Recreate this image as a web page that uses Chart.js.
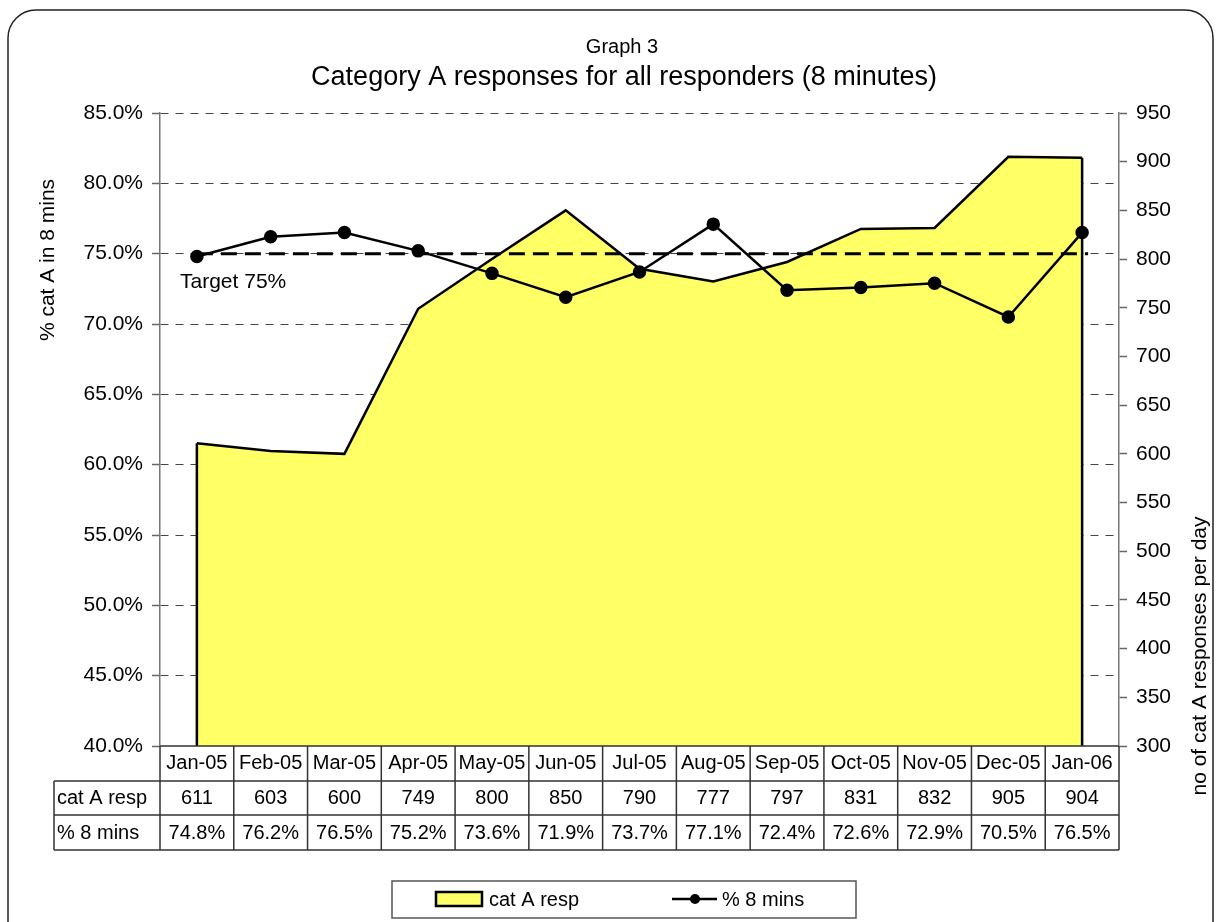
<!DOCTYPE html>
<html>
<head>
<meta charset="utf-8">
<script src="https://cdn.jsdelivr.net/npm/chart.js@4/dist/chart.umd.min.js"></script>
<style>
  html, body { margin: 0; padding: 0; background: #fff; }
  #wrap { width: 1220px; height: 922px; }
</style>
</head>
<body>
<div id="wrap"><canvas id="chart" width="1220" height="922"></canvas></div>
<script>
// ---- data ----
const months = ["Jan-05", "Feb-05", "Mar-05", "Apr-05", "May-05", "Jun-05", "Jul-05",
                "Aug-05", "Sep-05", "Oct-05", "Nov-05", "Dec-05", "Jan-06"];
const catAResp = [611, 603, 600, 749, 800, 850, 790, 777, 797, 831, 832, 905, 904];
const pct8Mins = [74.8, 76.2, 76.5, 75.2, 73.6, 71.9, 73.7, 77.1, 72.4, 72.6, 72.9, 70.5, 76.5];
const targetPct = 75;
const pctTicks = [40, 45, 50, 55, 60, 65, 70, 75, 80, 85];
const respTicks = [300, 350, 400, 450, 500, 550, 600, 650, 700, 750, 800, 850, 900, 950];

const FONT = "'Liberation Sans', Arial, sans-serif";
const YELLOW = "#ffff66";

/* frame, titles, axis titles */
const framePlugin = {
  id: "frame",
  beforeDraw(chart) {
    const { ctx } = chart;
    ctx.save();
    ctx.fillStyle = "#fff";
    ctx.fillRect(0, 0, chart.width, chart.height);
    ctx.strokeStyle = "#222";
    ctx.lineWidth = 1.5;
    ctx.beginPath();
    ctx.roundRect(8, 10, 1205, 940, 28);
    ctx.stroke();
    ctx.restore();
  },
  afterDraw(chart) {
    const { ctx } = chart;
    ctx.save();
    ctx.fillStyle = "#000";
    ctx.textAlign = "center";
    ctx.textBaseline = "middle";
    ctx.font = "20px " + FONT;
    ctx.fillText("Graph 3", 622, 47);
    ctx.font = "27px " + FONT;
    ctx.fillText("Category A responses for all responders (8 minutes)", 624, 78);

    ctx.font = "21px " + FONT;
    ctx.translate(48, 260);
    ctx.rotate(-Math.PI / 2);
    ctx.fillText("% cat A in 8 mins", 0, 0);
    ctx.restore();

    ctx.save();
    ctx.fillStyle = "#000";
    ctx.textAlign = "center";
    ctx.textBaseline = "middle";
    ctx.font = "21px " + FONT;
    ctx.translate(1200, 656);
    ctx.rotate(-Math.PI / 2);
    ctx.fillText("no of cat A responses per day", 0, 0);
    ctx.restore();
  }
};

/* closes the area on both ends and draws the 75% target */
const areaEdgePlugin = {
  id: "areaEdge",
  afterDatasetDraw(chart, args) {
    const { ctx, chartArea } = chart;
    if (args.index === 0) {
      const pts = args.meta.data;
      ctx.save();
      ctx.strokeStyle = "#000";
      ctx.lineWidth = 2.5;
      [pts[0], pts[pts.length - 1]].forEach(p => {
        ctx.beginPath();
        ctx.moveTo(p.x, p.y);
        ctx.lineTo(p.x, chartArea.bottom);
        ctx.stroke();
      });
      // target line
      const y = chart.scales.y.getPixelForValue(targetPct);
      const xs = chart.scales.x;
      ctx.lineWidth = 3;
      ctx.setLineDash([16, 8]);
      ctx.beginPath();
      ctx.moveTo(xs.getPixelForValue(0), y);
      ctx.lineTo(xs.getPixelForValue(months.length - 1) + 6, y);
      ctx.stroke();
      ctx.setLineDash([]);
      ctx.fillStyle = "#000";
      ctx.font = "21px " + FONT;
      ctx.textAlign = "left";
      ctx.textBaseline = "middle";
      ctx.fillText("Target " + targetPct + "%", 180, y + 29);
      ctx.restore();
    }
  }
};

/* data table under the axis and the legend box */
const tablePlugin = {
  id: "dataTable",
  afterDraw(chart) {
    const { ctx, chartArea } = chart;
    const xs = chart.scales.x;
    const w = xs.getPixelForValue(1) - xs.getPixelForValue(0);
    const rows = [chartArea.bottom, 781, 815, 850];
    const leftCol = 54;
    ctx.save();
    ctx.strokeStyle = "#333";
    ctx.lineWidth = 1.5;
    ctx.beginPath();
    ctx.moveTo(chartArea.left, rows[0]);
    ctx.lineTo(chartArea.right, rows[0]);
    for (let r = 1; r < rows.length; r++) {
      ctx.moveTo(leftCol, rows[r]);
      ctx.lineTo(chartArea.right, rows[r]);
    }
    for (let i = 0; i <= months.length; i++) {
      const x = xs.getPixelForValue(i) - w / 2;
      ctx.moveTo(x, rows[0]);
      ctx.lineTo(x, rows[3]);
    }
    ctx.moveTo(leftCol, rows[1]);
    ctx.lineTo(leftCol, rows[3]);
    ctx.stroke();

    ctx.fillStyle = "#000";
    ctx.font = "20px " + FONT;
    ctx.textBaseline = "middle";
    const ds = chart.data.datasets;
    const ya = (rows[1] + rows[2]) / 2;
    const yb = (rows[2] + rows[3]) / 2 + 1;
    ctx.textAlign = "left";
    ctx.fillText(ds[0].label, leftCol + 3, ya);
    ctx.fillText(ds[1].label, leftCol + 3, yb);
    ctx.textAlign = "center";
    months.forEach((m, i) => {
      const x = xs.getPixelForValue(i);
      ctx.fillText(String(catAResp[i]), x, ya);
      ctx.fillText(pct8Mins[i].toFixed(1) + "%", x, yb);
    });

    // legend
    ctx.strokeStyle = "#555";
    ctx.lineWidth = 1.5;
    ctx.strokeRect(392, 881, 464, 37);
    ctx.fillStyle = YELLOW;
    ctx.fillRect(436, 892, 46, 14);
    ctx.strokeStyle = "#000";
    ctx.lineWidth = 2.5;
    ctx.strokeRect(436, 892, 46, 14);
    ctx.fillStyle = "#000";
    ctx.textAlign = "left";
    ctx.fillText(ds[0].label, 489, 900);
    ctx.beginPath();
    ctx.moveTo(672, 899);
    ctx.lineTo(717, 899);
    ctx.stroke();
    ctx.beginPath();
    ctx.arc(695, 899, 5, 0, Math.PI * 2);
    ctx.fill();
    ctx.fillText(ds[1].label, 722, 900);
    ctx.restore();
  }
};

new Chart(document.getElementById("chart"), {
  type: "line",
  data: {
    labels: months,
    datasets: [
      {
        label: "cat A resp",
        data: catAResp,
        yAxisID: "y2",
        order: 3,
        fill: "start",
        backgroundColor: YELLOW,
        borderColor: "#000",
        borderWidth: 2.5,
        pointRadius: 0,
        tension: 0
      },
      {
        label: "% 8 mins",
        data: pct8Mins,
        yAxisID: "y",
        order: 1,
        fill: false,
        borderColor: "#000",
        borderWidth: 2.5,
        pointRadius: 5.5,
        pointBackgroundColor: "#000",
        pointBorderColor: "#000",
        tension: 0
      }
    ]
  },
  options: {
    responsive: false,
    animation: false,
    layout: { padding: { top: 113, left: 0, right: 0, bottom: 0 } },
    plugins: {
      legend: { display: false },
      tooltip: { enabled: false }
    },
    scales: {
      x: {
        offset: true,
        afterFit: s => { s.height = 176; },
        grid: { display: false, drawTicks: false },
        border: { display: false },
        ticks: {
          autoSkip: false,
          maxRotation: 0,
          padding: 5,
          color: "#000",
          font: { family: FONT, size: 20 }
        }
      },
      y: {
        position: "left",
        min: 40,
        max: 85,
        afterFit: s => { s.width = 160; },
        afterBuildTicks: s => { s.ticks = pctTicks.map(v => ({ value: v })); },
        grid: {
          color: c => (c.tick && c.tick.value === 40 ? "rgba(0,0,0,0)" : "#444"),
          lineWidth: 1,
          tickLength: 8,
          tickColor: "#666",
          tickWidth: 1.5
        },
        border: { display: true, color: "#777", width: 1.5, dash: [8, 7] },
        ticks: {
          padding: 9,
          color: "#000",
          font: { family: FONT, size: 21 },
          callback: v => Number(v).toFixed(1) + "%"
        }
      },
      y2: {
        position: "right",
        min: 300,
        max: 950,
        afterFit: s => { s.width = 101; },
        afterBuildTicks: s => { s.ticks = respTicks.map(v => ({ value: v })); },
        grid: {
          drawOnChartArea: false,
          tickLength: 8,
          tickColor: "#666",
          tickWidth: 1.5
        },
        border: { display: true, color: "#777", width: 1.5 },
        ticks: {
          padding: 9,
          color: "#000",
          font: { family: FONT, size: 21 }
        }
      }
    }
  },
  plugins: [framePlugin, areaEdgePlugin, tablePlugin]
});
</script>
</body>
</html>
